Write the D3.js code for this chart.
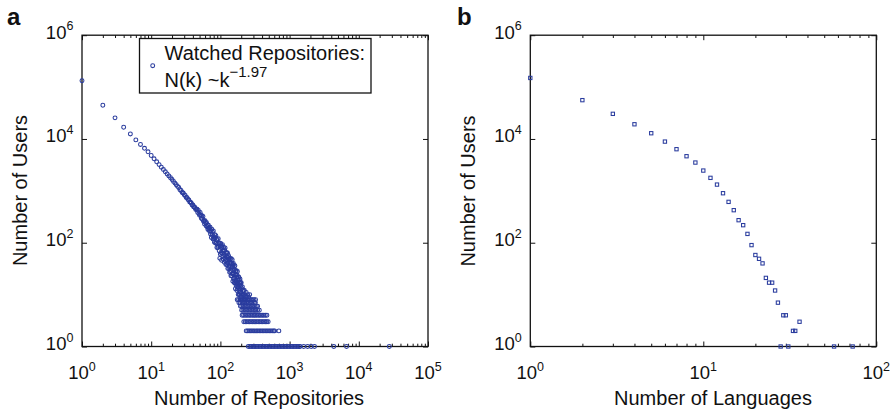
<!DOCTYPE html>
<html><head><meta charset="utf-8">
<script src="https://cdn.jsdelivr.net/npm/d3@7"></script>
<style>
body{margin:0;background:#fff}
svg{display:block}
text{font-family:"Liberation Sans",Arial,Helvetica,sans-serif;fill:#111}
</style>
</head><body>
<svg id="chart" width="896" height="413"></svg>
<script>
// ---------- DATA ----------
// Panel a: number of users N(k) watching k repositories, k = 1, 2, 3, ... (consecutive)
const watchedUsers = [
  133000, 44700, 25500, 16800, 12500, 9600, 7850, 6600, 5650, 4800,
  4145, 3625, 3205, 2860, 2571, 2328, 2120, 1942, 1786, 1650,
  1522, 1410, 1310, 1221, 1160, 1052, 1020, 930, 905, 838,
  812, 748, 735, 680, 668, 611, 604, 580, 536, 532,
  494, 490, 472, 438, 441, 442, 382, 420, 365, 338,
  383, 341, 295, 330, 285, 319, 259, 265, 230, 267,
  245, 212, 244, 204, 218, 180, 218, 183, 190, 166,
  198, 147, 170, 126, 182, 141, 158, 118, 169, 121,
  128, 102, 143, 124, 99, 137, 98, 114, 81, 116,
  95, 81, 120, 85, 98, 70, 99, 50, 85, 60,
  97, 65, 82, 46, 86, 63, 92, 54, 69, 48,
  82, 59, 70, 42, 73, 50, 79, 45, 58, 38,
  63, 46, 65, 39, 54, 41, 63, 32, 52, 41,
  56, 33, 47, 35, 50, 27, 42, 34, 49, 28,
  40, 23, 49, 29, 40, 23, 34, 47, 25, 35,
  18, 38, 25, 40, 20, 29, 21, 35, 17, 30,
  22, 36, 17, 24, 13, 29, 18, 24, 15, 29,
  16, 22, 12, 24, 17, 28, 13, 19, 14, 22,
  10, 19, 14, 22, 12, 17, 10, 19, 13, 17,
  10, 20, 11, 14, 8, 17, 11, 15, 9, 17
];
// Panel a: scattered points beyond k = 200
const extraRepos = [202, 204, 206, 208, 210, 212, 214, 216, 218, 220, 222, 224, 226, 228, 230, 236, 242, 248, 256, 265];
const extraUsers = [10, 13, 8, 14, 10, 12, 7, 12, 8, 10, 12, 7, 10, 8, 9, 11, 9, 10, 9, 10];
// Panel a: low user counts and the repository counts at which they occur
const lowCountUsers = [8, 7, 6, 5, 4, 3, 2, 1];
const lowCountRepos = [
  [175, 183, 192, 201, 211, 222, 231, 243, 254, 266, 279, 292, 306, 322],
  [185, 193, 204, 213, 224, 236, 247, 259, 271, 284, 297, 311, 320],
  [195, 204, 215, 226, 237, 248, 260, 273, 287, 300, 316, 331, 345],
  [203, 212, 223, 234, 246, 258, 270, 284, 298, 312, 328, 345, 365],
  [206, 216, 227, 238, 250, 262, 275, 289, 303, 318, 334, 351, 368, 386, 405, 425, 446, 470],
  [218, 229, 240, 252, 264, 277, 291, 305, 320, 336, 352, 370, 388, 407, 427, 448, 468, 490],
  [236, 248, 260, 273, 286, 300, 315, 331, 347, 364, 382, 401, 421, 442, 464, 487, 511, 536, 562, 590, 610, 700],
  [253, 266, 279, 293, 307, 322, 338, 355, 373, 391, 411, 431, 453, 475, 499, 524, 550, 577, 606, 636,
   668, 701, 736, 773, 812, 852, 895, 940, 987, 1036, 1088, 1142, 1199, 1259, 1322, 1388, 1410,
   1600, 1820, 2050, 2290, 4350, 6650, 27600]
];
// Panel b: number of users by number of languages
const languageCounts = [1, 2, 3, 4, 5, 6, 7, 8, 9, 10, 11, 12, 13, 14, 15, 16, 17, 18, 19, 20,
  21, 22, 23, 24, 25, 26, 27, 28, 29, 30, 31, 33, 34, 36, 57, 73];
const languageUsers = [150000, 56000, 30500, 19200, 12900, 8900, 6350, 4650, 3510, 2460,
  1780, 1320, 900, 613, 424, 272, 218, 148, 90, 58,
  49, 40, 21, 17, 17, 12, 7, 1, 4, 4, 1, 2, 2, 3, 1, 1];

const yTickExps = [0, 2, 4, 6];
const xTickExpsA = [0, 1, 2, 3, 4, 5];
const xTickExpsB = [0, 1, 2];

// ---------- DRAW ----------
const svg = d3.select("#chart");
const BLUE = "#2a3c9e";
const Y0 = 35.2, Y1 = 346.5;

function panel(o) {
  const x = d3.scaleLog().domain([1, 10 ** d3.max(o.xExps)]).range([o.x0, o.x1]);
  const y = d3.scaleLog().domain([1, 1e6]).range([Y1, Y0]);
  const g = svg.append("g");
  const majorX = o.xExps.map(e => 10 ** e);
  const minorX = [];
  o.xExps.slice(0, -1).forEach(e => { for (let m = 2; m <= 9; m++) minorX.push(m * 10 ** e); });
  const majorY = yTickExps.map(e => 10 ** e);

  const tick = (sel) => { sel.select(".domain").remove(); sel.selectAll("line").attr("stroke", "#111").attr("stroke-width", 1); };
  g.append("g").attr("transform", `translate(0,${Y1})`).call(d3.axisBottom(x).tickValues(majorX).tickSize(-5).tickFormat("")).call(tick);
  g.append("g").attr("transform", `translate(0,${Y1})`).call(d3.axisBottom(x).tickValues(minorX).tickSize(-2.8).tickFormat("")).call(tick);
  g.append("g").attr("transform", `translate(0,${Y0})`).call(d3.axisTop(x).tickValues(majorX).tickSize(-5).tickFormat("")).call(tick);
  g.append("g").attr("transform", `translate(0,${Y0})`).call(d3.axisTop(x).tickValues(minorX).tickSize(-2.8).tickFormat("")).call(tick);
  g.append("g").attr("transform", `translate(${o.x0},0)`).call(d3.axisLeft(y).tickValues(majorY).tickSize(-5).tickFormat("")).call(tick);
  g.append("g").attr("transform", `translate(${o.x1},0)`).call(d3.axisRight(y).tickValues(majorY).tickSize(-5).tickFormat("")).call(tick);

  g.append("rect").attr("x", o.x0).attr("y", Y0).attr("width", o.x1 - o.x0).attr("height", Y1 - Y0)
    .attr("fill", "none").attr("stroke", "#111").attr("stroke-width", 1.3);

  // x tick labels
  o.xExps.forEach(e => {
    const t = g.append("text").attr("x", x(10 ** e)).attr("y", Y1 + 32.5).attr("text-anchor", "middle").style("font-size", "18.5px");
    t.append("tspan").text("10");
    t.append("tspan").attr("dy", -8.5).style("font-size", "12.5px").text(e);
  });
  // y tick labels
  yTickExps.forEach(e => {
    const t = g.append("text").attr("x", o.x0 - 8.6).attr("y", y(10 ** e) + 3.5).attr("text-anchor", "end").style("font-size", "18.5px");
    t.append("tspan").text("10");
    t.append("tspan").attr("dy", -8.3).style("font-size", "12.5px").text(e);
  });
  // axis titles
  g.append("text").attr("x", o.xLabelX).attr("y", 405).attr("text-anchor", "middle").style("font-size", "20px").text(o.xLabel);
  g.append("text").attr("transform", `translate(${o.yLabelX},${o.yLabelY}) rotate(-90)`).attr("text-anchor", "middle").style("font-size", "20px").text("Number of Users");
  // panel letter
  g.append("text").attr("x", o.letterX).attr("y", 25).style("font-size", "24px").style("font-weight", "bold").text(o.letter);
  return { g, x, y };
}

// Panel a
const A = panel({ x0: 82, x1: 428, xExps: xTickExpsA, xLabel: "Number of Repositories", xLabelX: 259, yLabelX: 26.5, yLabelY: 190.5, letter: "a", letterX: 7 });
const ptsA = watchedUsers.map((n, i) => [i + 1, n])
  .concat(extraRepos.map((k, i) => [k, extraUsers[i]]));
lowCountUsers.forEach((n, j) => lowCountRepos[j].forEach(k => ptsA.push([k, n])));
A.g.append("g").selectAll("circle").data(ptsA).join("circle")
  .attr("cx", d => A.x(d[0])).attr("cy", d => A.y(d[1])).attr("r", 1.95)
  .attr("fill", "none").attr("stroke", BLUE).attr("stroke-width", 1.05);

// legend
const lg = A.g.append("g");
lg.append("rect").attr("x", 139.5).attr("y", 38.5).attr("width", 231.5).attr("height", 54.5)
  .attr("fill", "#fff").attr("stroke", "#111").attr("stroke-width", 1.3);
lg.append("circle").attr("cx", 152.7).attr("cy", 65.7).attr("r", 1.95).attr("fill", "none").attr("stroke", BLUE).attr("stroke-width", 1.05);
lg.append("text").attr("x", 164.5).attr("y", 59.5).style("font-size", "20px").text("Watched Repositories:");
const lt = lg.append("text").attr("x", 164.5).attr("y", 87.3).style("font-size", "20px");
lt.append("tspan").text("N(k) ~k");
lt.append("tspan").attr("dy", -10.5).style("font-size", "15px").text("\u22121.97");

// Panel b
const B = panel({ x0: 530.3, x1: 876.3, xExps: xTickExpsB, xLabel: "Number of Languages", xLabelX: 713, yLabelX: 475, yLabelY: 191, letter: "b", letterX: 457 });
const ptsB = languageCounts.map((k, i) => [k, languageUsers[i]]);
const s = 3.3;
B.g.append("g").selectAll("rect").data(ptsB).join("rect")
  .attr("x", d => B.x(d[0]) - s / 2).attr("y", d => B.y(d[1]) - s / 2).attr("width", s).attr("height", s)
  .attr("fill", "none").attr("stroke", BLUE).attr("stroke-width", 1.05);
</script>
</body></html>
